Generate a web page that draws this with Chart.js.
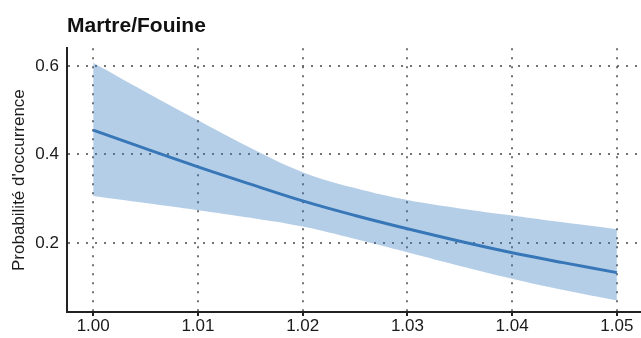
<!DOCTYPE html>
<html>
<head>
<meta charset="utf-8">
<script src="https://cdn.jsdelivr.net/npm/chart.js@4"></script>
<style>
  html, body { margin: 0; padding: 0; background: #fff; }
  #wrap { width: 641px; height: 338px; }
</style>
</head>
<body>
<div id="wrap"><canvas id="chart" width="641" height="338"></canvas></div>
<script>
const xValues = [1.000, 1.005, 1.010, 1.015, 1.020, 1.025, 1.030, 1.035, 1.040, 1.045, 1.050]
const meanValues = [0.455, 0.413, 0.372, 0.333, 0.295, 0.262, 0.232, 0.204, 0.178, 0.155, 0.133]
const upperValues = [0.607, 0.541, 0.477, 0.415, 0.360, 0.324, 0.297, 0.278, 0.262, 0.246, 0.231]
const lowerValues = [0.306, 0.290, 0.274, 0.257, 0.237, 0.209, 0.179, 0.148, 0.119, 0.093, 0.070]
const xTicks = [1.00, 1.01, 1.02, 1.03, 1.04, 1.05]
const yTicks = [0.2, 0.4, 0.6]

const toPoints = ys => xValues.map((x, i) => ({ x, y: ys[i] }))

const gridStyle = {
  color: "rgba(100, 100, 100, 0.9)",
  lineWidth: 2
}
const axisBorder = { color: "#222", width: 2, dash: [2, 7] }
const font = { family: "'Liberation Sans', Arial, sans-serif", size: 17 }

new Chart(document.getElementById("chart").getContext("2d"), {
  type: "line",
  data: {
    datasets: [
      {
        label: "upper",
        data: toPoints(upperValues),
        borderWidth: 0,
        pointRadius: 0,
        backgroundColor: "rgba(50, 120, 190, 0.36)",
        fill: "+1",
        tension: 0.4
      },
      {
        label: "lower",
        data: toPoints(lowerValues),
        borderWidth: 0,
        pointRadius: 0,
        fill: false,
        tension: 0.4
      },
      {
        label: "mean",
        data: toPoints(meanValues),
        borderColor: "#3a77b4",
        borderWidth: 3,
        pointRadius: 0,
        fill: false,
        tension: 0.4
      }
    ]
  },
  options: {
    responsive: false,
    animation: false,
    layout: { padding: 0 },
    plugins: {
      legend: { display: false },
      tooltip: { enabled: false },
      title: {
        display: true,
        text: "Martre/Fouine",
        align: "start",
        fullSize: false,
        color: "#111",
        font: { family: "'Liberation Sans', Arial, sans-serif", size: 21, weight: "bold" },
        padding: { top: 14, bottom: 9 }
      }
    },
    scales: {
      x: {
        type: "linear",
        min: 0.9975,
        max: 1.0523,
        afterBuildTicks: axis => { axis.ticks = xTicks.map(v => ({ value: v })) },
        afterFit: axis => { axis.height = 26 },
        border: axisBorder,
        grid: { ...gridStyle, tickLength: 4, tickColor: "#222", tickWidth: 2, tickBorderDash: [] },
        ticks: {
          padding: 0,
          color: "#1a1a1a",
          maxRotation: 0,
          font,
          callback: v => Number(v).toFixed(2)
        }
      },
      y: {
        min: 0.044,
        max: 0.64,
        afterBuildTicks: axis => { axis.ticks = yTicks.map(v => ({ value: v })) },
        afterFit: axis => { axis.width = 67 },
        border: axisBorder,
        grid: { ...gridStyle, drawTicks: false },
        title: {
          display: true,
          text: "Probabilité d'occurrence",
          color: "#1a1a1a",
          font,
          padding: { top: 9, bottom: 0 }
        },
        ticks: {
          padding: 8,
          color: "#1a1a1a",
          font,
          callback: v => Number(v).toFixed(1)
        }
      }
    }
  }
})
</script>
</body>
</html>
